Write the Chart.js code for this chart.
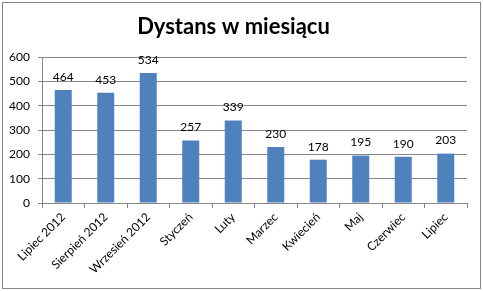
<!DOCTYPE html>
<html><head><meta charset="utf-8">
<script src="https://cdn.jsdelivr.net/npm/chart.js@4"></script>
<style>html,body{margin:0;padding:0;background:#fff;}#wrap{position:relative;width:483px;height:291px;}</style>
</head><body><div id="wrap"><canvas id="c" width="483" height="291"></canvas></div>
<script>
const categories = ["Lipiec 2012","Sierpień 2012","Wrzesień 2012","Styczeń","Luty","Marzec","Kwiecień","Maj","Czerwiec","Lipiec"];
const distances = [464,453,534,257,339,230,178,195,190,203];
const yTicks = [0,100,200,300,400,500,600];
const FONT = "Lato, 'Open Sans', sans-serif";

const borderPlugin = {
  id: 'frame',
  beforeDraw(chart){
    const ctx = chart.ctx;
    ctx.save();
    ctx.fillStyle = '#fff';
    ctx.fillRect(0,0,chart.width,chart.height);
    ctx.strokeStyle = '#868686';
    ctx.lineWidth = 1;
    ctx.strokeRect(2.5,2.5,478,286);
    ctx.restore();
  }
};
const labelPlugin = {
  id: 'vals',
  afterDatasetsDraw(chart){
    const ctx = chart.ctx;
    const meta = chart.getDatasetMeta(0);
    ctx.save();
    ctx.fillStyle = '#000';
    ctx.font = "12px " + FONT;
    ctx.textAlign = 'center';
    ctx.textBaseline = 'bottom';
    meta.data.forEach((el,i)=>{
      ctx.fillText(String(distances[i]), el.x, el.y - 7);
    });
    ctx.restore();
  }
};

new Chart(document.getElementById('c'), {
  type: 'bar',
  data: { labels: categories, datasets: [{ data: distances, backgroundColor: '#4F81BD', barPercentage: 0.4, categoryPercentage: 1 }] },
  options: {
    responsive: false, animation: false,
    layout: { padding: { left: 0, right: 16, top: 0, bottom: 0 } },
    plugins: {
      legend: { display: false }, tooltip: { enabled: false },
      title: { display: true, text: 'Dystans w miesiącu', color: '#000', font: { family: FONT, size: 22, weight: 'bold' }, padding: { top: 14, bottom: 16.6 } }
    },
    scales: {
      x: {
        grid: { drawOnChartArea: false, drawTicks: true, tickLength: 5, color: '#868686' },
        border: { color: '#868686' },
        ticks: { color: '#000', font: { family: FONT, size: 12 }, maxRotation: 45, minRotation: 45, padding: 2, autoSkip: false },
        afterFit(s){ s.height = 88; }
      },
      y: {
        min: 0, max: 600,
        afterBuildTicks(s){ s.ticks = yTicks.map(v=>({value:v})); },
        grid: { color: '#868686', tickLength: 4 },
        border: { color: '#868686' },
        ticks: { color: '#000', font: { family: FONT, size: 12 }, padding: 8 },
        afterFit(s){ s.width = 42; }
      }
    }
  },
  plugins: [borderPlugin, labelPlugin]
});
</script></body></html>
